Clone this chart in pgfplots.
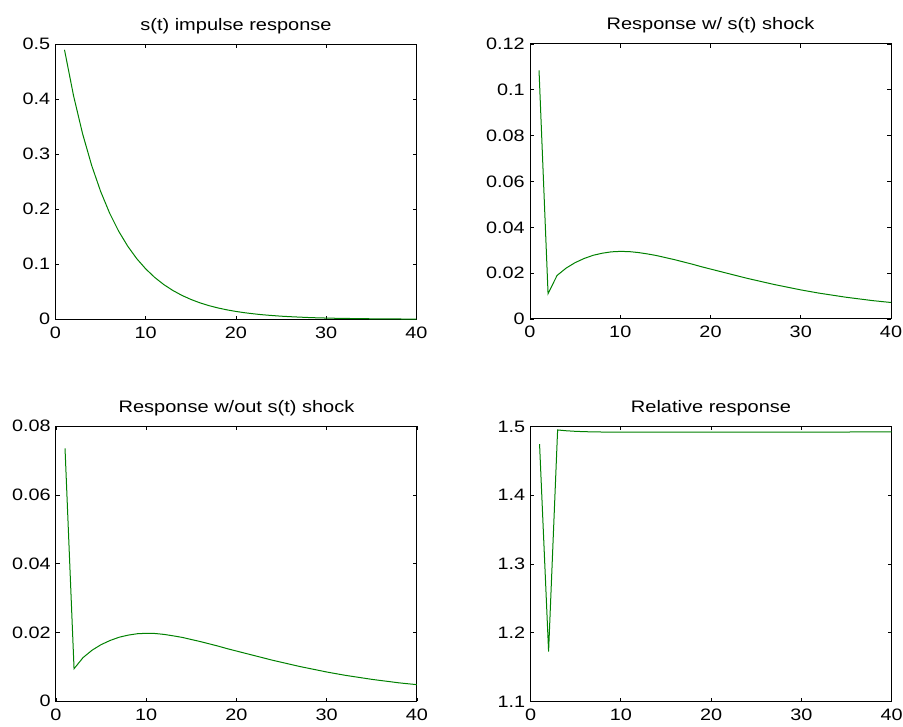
\documentclass[border=0pt]{standalone}
\usepackage{fontspec}
\setmainfont{Liberation Sans}[FakeStretch=1.2]
\usepackage{pgfplots}
\pgfplotsset{compat=1.18}
\definecolor{mgreen}{rgb}{0,0.5,0}
\pgfplotsset{
  every axis/.append style={
    scale only axis, width=270.75pt, height=206.25pt, anchor=south west,
    xmin=0, xmax=40, xtick={0,10,20,30,40},
    xticklabels={0,10,20,30,40},
    scaled y ticks=false, scaled x ticks=false,
    tick align=inside, major tick length=2.7pt,
    axis line style={line width=0.75pt}, every tick/.style={black, line width=0.6pt},
    font=\fontsize{12.4pt}{14pt}\selectfont,
    tick label style={font=\fontsize{12.4pt}{14pt}\selectfont},
    /pgf/number format/assume math mode=true,
    title style={at={(0.5,1)}, anchor=base, yshift=4.5pt, font=\fontsize{12.5pt}{14pt}\selectfont},
    xticklabel style={yshift=-2pt},
    yticklabel style={xshift=-0.5pt},
  },
}
\tikzset{g/.style={mgreen, line width=0.75pt, mark=none}}
\begin{document}
\begin{tikzpicture}
\useasboundingbox (0,0) rectangle (677.25pt,545.25pt);
% top left
\begin{axis}[at={(41.6pt,305.8pt)}, title={s(t) impulse response},
  ymin=0, ymax=0.5, ytick={0,0.1,0.2,0.3,0.4,0.5}, yticklabels={0,0.1,0.2,0.3,0.4,0.5}]
\addplot[g] coordinates {(1,0.4900)(2,0.4067)(3,0.3376)(4,0.2802)(5,0.2326)(6,0.1930)(7,0.1602)(8,0.1330)(9,0.1103)(10,0.0916)
(11,0.0760)(12,0.0631)(13,0.0524)(14,0.0435)(15,0.0361)(16,0.0299)(17,0.0248)(18,0.0206)(19,0.0171)(20,0.0142)
(21,0.0118)(22,0.0098)(23,0.0081)(24,0.0068)(25,0.0056)(26,0.0047)(27,0.0039)(28,0.0032)(29,0.0026)(30,0.0022)
(31,0.0018)(32,0.0015)(33,0.0013)(34,0.0010)(35,0.0009)(36,0.0007)(37,0.0006)(38,0.0005)(39,0.0004)(40,0.0003)};
\end{axis}
% top right
\begin{axis}[at={(397.5pt,306pt)}, title={Response w/ s(t) shock},
  ymin=0, ymax=0.12, ytick={0,0.02,0.04,0.06,0.08,0.1,0.12}, yticklabels={0,0.02,0.04,0.06,0.08,0.1,0.12}]
\addplot[g] coordinates {(1,0.1085)(2,0.0111)(3,0.0190)(4,0.0222)(5,0.0246)(6,0.0264)(7,0.0278)(8,0.0287)(9,0.0293)(10,0.0295)
(11,0.0294)(12,0.0290)(13,0.0284)(14,0.0277)(15,0.0268)(16,0.0259)(17,0.0249)(18,0.0239)(19,0.0228)(20,0.0218)
(21,0.0208)(22,0.0198)(23,0.0188)(24,0.0178)(25,0.0169)(26,0.0160)(27,0.0151)(28,0.0143)(29,0.0135)(30,0.0127)
(31,0.0120)(32,0.0113)(33,0.0107)(34,0.0101)(35,0.0095)(36,0.0090)(37,0.0085)(38,0.0080)(39,0.0076)(40,0.0072)};
\end{axis}
% bottom left
\begin{axis}[at={(42pt,19.3pt)}, title={Response w/out s(t) shock},
  ymin=0, ymax=0.08, ytick={0,0.02,0.04,0.06,0.08}, yticklabels={0,0.02,0.04,0.06,0.08}]
\addplot[g] coordinates {(1,0.07358)(2,0.009465)(3,0.01271)(4,0.01486)(5,0.01648)(6,0.01769)(7,0.01863)(8,0.01924)(9,0.01964)(10,0.01977)
(11,0.01971)(12,0.01944)(13,0.01903)(14,0.01857)(15,0.01796)(16,0.01736)(17,0.01669)(18,0.01602)(19,0.01528)(20,0.01461)
(21,0.01394)(22,0.01327)(23,0.01260)(24,0.01193)(25,0.01133)(26,0.01072)(27,0.01012)(28,0.00958)(29,0.00905)(30,0.00851)
(31,0.00804)(32,0.00757)(33,0.00717)(34,0.00677)(35,0.00637)(36,0.00603)(37,0.00570)(38,0.00536)(39,0.00509)(40,0.00483)};
\end{axis}
% bottom right
\begin{axis}[at={(397.9pt,19.1pt)}, title={Relative response},
  ymin=1.1, ymax=1.5, ytick={1.1,1.2,1.3,1.4,1.5}, yticklabels={1.1,1.2,1.3,1.4,1.5}]
\addplot[g] coordinates {(1,1.4745)(2,1.1728)(3,1.4950)(4,1.4938)(5,1.4930)(6,1.4925)(7,1.4922)(8,1.4920)(9,1.4920)(10,1.4920)
(11,1.4920)(12,1.4920)(13,1.4920)(14,1.4920)(15,1.4920)(16,1.4920)(17,1.4920)(18,1.4920)(19,1.4920)(20,1.4920)
(21,1.4920)(22,1.4920)(23,1.4920)(24,1.4920)(25,1.4920)(26,1.4920)(27,1.4920)(28,1.4920)(29,1.4920)(30,1.4920)
(31,1.4920)(32,1.4920)(33,1.4920)(34,1.4920)(35,1.4920)(36,1.4921)(37,1.4921)(38,1.4921)(39,1.4921)(40,1.4921)};
\end{axis}
\end{tikzpicture}
\end{document}
